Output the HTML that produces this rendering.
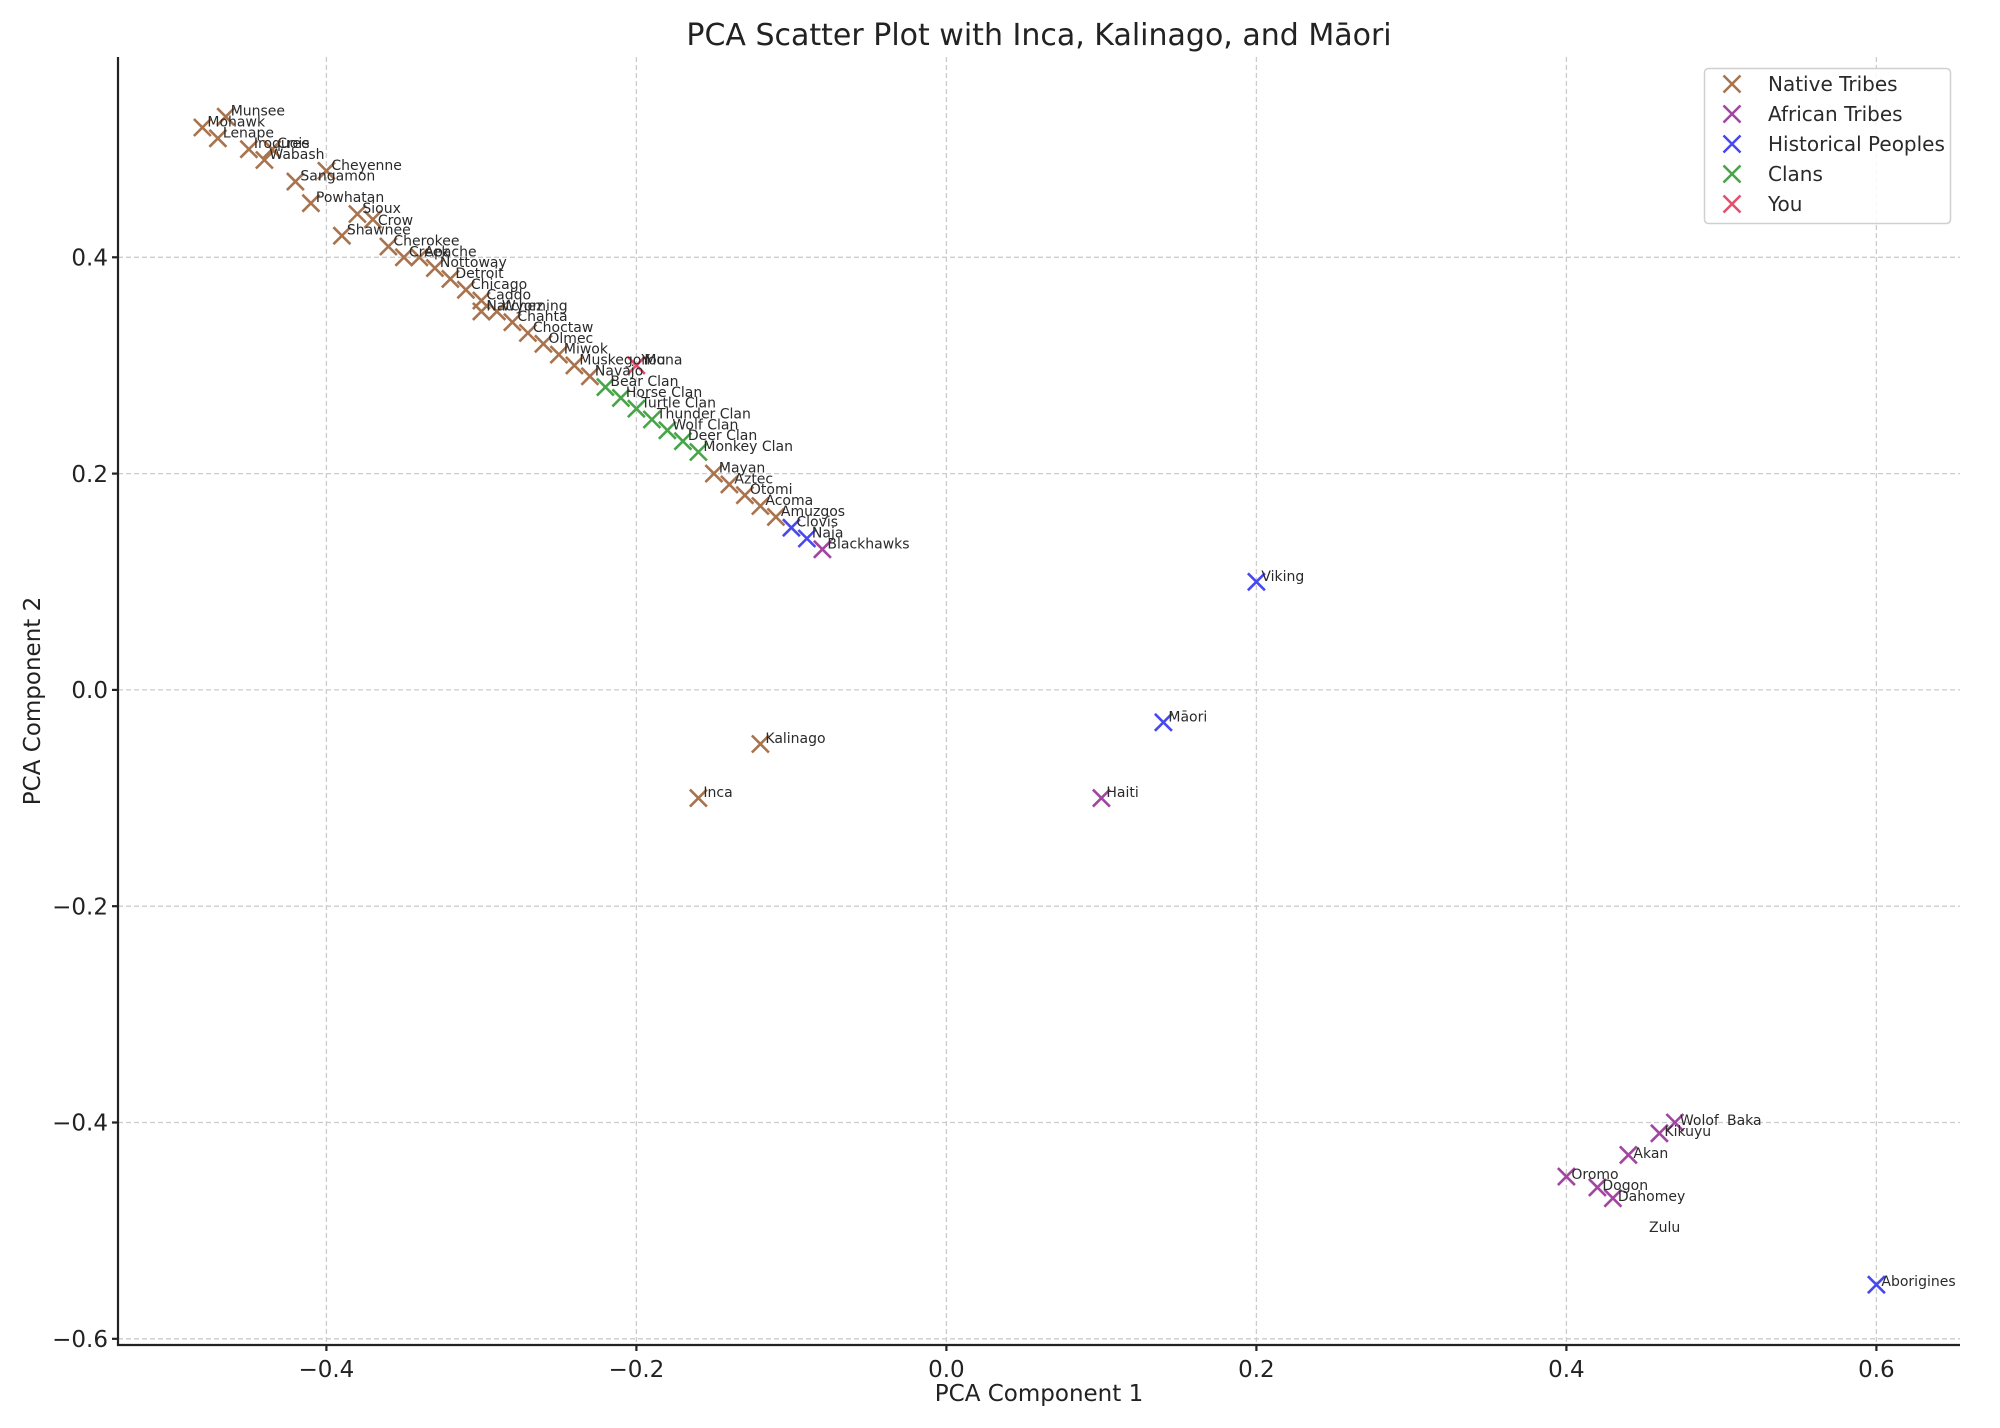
<!DOCTYPE html>
<html><head><meta charset="utf-8"><style>html,body{margin:0;padding:0;background:#fff}svg{display:block}</style></head>
<body>
<svg width="2000" height="1428" viewBox="0 0 2000 1428" xmlns="http://www.w3.org/2000/svg" font-family="DejaVu Sans, Liberation Sans, sans-serif">
<defs><path id="m" d="M-8.5-8.5L8.5 8.5M-8.5 8.5L8.5-8.5" stroke-width="2.6" fill="none"/></defs>
<rect width="2000" height="1428" fill="#fff"/>
<g stroke="#cccccc" stroke-width="1.3" stroke-dasharray="5,3">
<line x1="326.4" y1="57" x2="326.4" y2="1345"/><line x1="636.4" y1="57" x2="636.4" y2="1345"/><line x1="946.4" y1="57" x2="946.4" y2="1345"/><line x1="1256.4" y1="57" x2="1256.4" y2="1345"/><line x1="1566.4" y1="57" x2="1566.4" y2="1345"/><line x1="1876.4" y1="57" x2="1876.4" y2="1345"/>
<line x1="118" y1="257.3" x2="1960" y2="257.3"/><line x1="118" y1="473.6" x2="1960" y2="473.6"/><line x1="118" y1="689.9" x2="1960" y2="689.9"/><line x1="118" y1="906.2" x2="1960" y2="906.2"/><line x1="118" y1="1122.5" x2="1960" y2="1122.5"/><line x1="118" y1="1338.8" x2="1960" y2="1338.8"/>
</g>
<g stroke="#222" stroke-width="2.2">
<line x1="118" y1="57" x2="118" y2="1346"/><line x1="117" y1="1345" x2="1960" y2="1345"/>
<line x1="112" y1="257.3" x2="118" y2="257.3"/><line x1="112" y1="473.6" x2="118" y2="473.6"/><line x1="112" y1="689.9" x2="118" y2="689.9"/><line x1="112" y1="906.2" x2="118" y2="906.2"/><line x1="112" y1="1122.5" x2="118" y2="1122.5"/><line x1="112" y1="1338.8" x2="118" y2="1338.8"/>
<line x1="326.4" y1="1345" x2="326.4" y2="1351"/><line x1="636.4" y1="1345" x2="636.4" y2="1351"/><line x1="946.4" y1="1345" x2="946.4" y2="1351"/><line x1="1256.4" y1="1345" x2="1256.4" y2="1351"/><line x1="1566.4" y1="1345" x2="1566.4" y2="1351"/><line x1="1876.4" y1="1345" x2="1876.4" y2="1351"/>
</g>
<g font-size="23" fill="#222" text-anchor="end">
<text x="108" y="265.5">0.4</text><text x="108" y="481.8">0.2</text><text x="108" y="698.1">0.0</text><text x="108" y="914.4">−0.2</text><text x="108" y="1130.7">−0.4</text><text x="108" y="1347">−0.6</text>
</g>
<g font-size="23" fill="#222" text-anchor="middle">
<text x="326.4" y="1377">−0.4</text><text x="636.4" y="1377">−0.2</text><text x="946.4" y="1377">0.0</text><text x="1256.4" y="1377">0.2</text><text x="1566.4" y="1377">0.4</text><text x="1876.4" y="1377">0.6</text>
<text x="1039" y="1401">PCA Component 1</text>
<text transform="translate(40,701) rotate(-90)">PCA Component 2</text>
<text x="1039" y="45" font-size="30">PCA Scatter Plot with Inca, Kalinago, and Māori</text>
</g>
<g stroke="#a9734d">
<use href="#m" x="202.4" y="127.5"/><use href="#m" x="225.7" y="116.7"/><use href="#m" x="217.9" y="138.3"/><use href="#m" x="248.9" y="149.2"/><use href="#m" x="272.2" y="149.2"/><use href="#m" x="264.4" y="160"/><use href="#m" x="326.4" y="170.8"/><use href="#m" x="295.4" y="181.6"/><use href="#m" x="310.9" y="203.2"/><use href="#m" x="357.4" y="214"/><use href="#m" x="372.9" y="219.4"/><use href="#m" x="341.9" y="235.7"/><use href="#m" x="388.4" y="246.5"/><use href="#m" x="403.9" y="257.3"/><use href="#m" x="419.4" y="257.3"/><use href="#m" x="434.9" y="268.1"/><use href="#m" x="450.4" y="278.9"/><use href="#m" x="465.9" y="289.8"/><use href="#m" x="481.4" y="300.6"/><use href="#m" x="481.4" y="311.4"/><use href="#m" x="496.9" y="311.4"/><use href="#m" x="512.4" y="322.2"/><use href="#m" x="527.9" y="333"/><use href="#m" x="543.4" y="343.8"/><use href="#m" x="558.9" y="354.6"/><use href="#m" x="574.4" y="365.4"/><use href="#m" x="589.9" y="376.3"/>
<use href="#m" x="713.9" y="473.6"/><use href="#m" x="729.4" y="484.4"/><use href="#m" x="744.9" y="495.2"/><use href="#m" x="760.4" y="506"/><use href="#m" x="775.9" y="516.9"/><use href="#m" x="760.4" y="744"/><use href="#m" x="698.4" y="798.1"/>
</g>
<g stroke="#47a547">
<use href="#m" x="605.4" y="387.1"/><use href="#m" x="620.9" y="397.9"/><use href="#m" x="636.4" y="408.7"/><use href="#m" x="651.9" y="419.5"/><use href="#m" x="667.4" y="430.3"/><use href="#m" x="682.9" y="441.2"/><use href="#m" x="698.4" y="452"/>
</g>
<g stroke="#e4506c"><use href="#m" x="636.4" y="365.4"/></g>
<g stroke="#4848f2">
<use href="#m" x="791.4" y="527.7"/><use href="#m" x="806.9" y="538.5"/><use href="#m" x="1256.4" y="581.8"/><use href="#m" x="1163.4" y="722.3"/><use href="#m" x="1876.4" y="1284.7"/>
</g>
<g stroke="#a245a2">
<use href="#m" x="822.4" y="549.3"/><use href="#m" x="1101.4" y="798.1"/><use href="#m" x="1674.9" y="1122.5"/><use href="#m" x="1659.4" y="1133.3"/><use href="#m" x="1628.4" y="1154.9"/><use href="#m" x="1566.4" y="1176.6"/><use href="#m" x="1597.4" y="1187.4"/><use href="#m" x="1612.9" y="1198.2"/>
</g>
<g font-size="14" fill="#2a2a2a">
<text x="207.4" y="126.5">Mohawk</text><text x="230.7" y="115.7">Munsee</text><text x="222.9" y="137.3">Lenape</text><text x="253.9" y="148.2">Iroquois</text><text x="277.2" y="148.2">Cree</text><text x="269.4" y="159">Wabash</text><text x="331.4" y="169.8">Cheyenne</text><text x="300.4" y="180.6">Sangamon</text><text x="315.9" y="202.2">Powhatan</text><text x="362.4" y="213">Sioux</text><text x="377.9" y="225">Crow</text><text x="346.9" y="234.7">Shawnee</text><text x="393.4" y="245.5">Cherokee</text><text x="408.9" y="256.3">Creek</text><text x="424.4" y="256.3">Apache</text><text x="439.9" y="267.1">Nottoway</text><text x="455.4" y="277.9">Detroit</text><text x="470.9" y="288.8">Chicago</text><text x="486.4" y="299.6">Caddo</text><text x="486.4" y="310.4">Natchez</text><text x="501.9" y="310.4">Wyoming</text><text x="517.4" y="321.2">Chahta</text><text x="532.9" y="332">Choctaw</text><text x="548.4" y="342.8">Olmec</text><text x="563.9" y="353.6">Miwok</text><text x="579.4" y="364.4">Muskegon</text><text x="594.9" y="375.3">Navajo</text>
<text x="641.4" y="364.4">You</text><text x="644.4" y="364.4">Mona</text>
<text x="610.4" y="386.1">Bear Clan</text><text x="625.9" y="396.9">Horse Clan</text><text x="641.4" y="407.7">Turtle Clan</text><text x="656.9" y="418.5">Thunder Clan</text><text x="672.4" y="429.3">Wolf Clan</text><text x="687.9" y="440.2">Deer Clan</text><text x="703.4" y="451">Monkey Clan</text>
<text x="718.9" y="472.6">Mayan</text><text x="734.4" y="483.4">Aztec</text><text x="749.9" y="494.2">Otomi</text><text x="765.4" y="505">Acoma</text><text x="780.9" y="515.9">Amuzgos</text><text x="796.4" y="526.7">Clovis</text><text x="811.9" y="537.5">Naja</text><text x="827.4" y="548.3">Blackhawks</text>
<text x="1261.4" y="580.8">Viking</text><text x="1168.4" y="721.3">Māori</text><text x="765.4" y="743">Kalinago</text><text x="703.4" y="797.1">Inca</text><text x="1106.4" y="797.1">Haiti</text>
<text x="1679.9" y="1125">Wolof</text><text x="1727" y="1125">Baka</text><text x="1664.4" y="1136">Kikuyu</text><text x="1633.4" y="1158">Akan</text><text x="1571.4" y="1179">Oromo</text><text x="1602.4" y="1190">Dogon</text><text x="1617.9" y="1201">Dahomey</text><text x="1649" y="1232">Zulu</text><text x="1881.4" y="1286">Aborigines</text>
</g>
<rect x="1704.5" y="68.5" width="246" height="155" rx="4" fill="#fff" fill-opacity="0.85" stroke="#d0d0d0" stroke-width="1.5"/>
<g stroke-width="2.6">
<use href="#m" x="1732" y="84" stroke="#a9734d"/><use href="#m" x="1732" y="114" stroke="#a245a2"/><use href="#m" x="1732" y="144" stroke="#4848f2"/><use href="#m" x="1732" y="174" stroke="#47a547"/><use href="#m" x="1732" y="204" stroke="#e4506c"/>
</g>
<g font-size="20" fill="#2a2a2a">
<text x="1768" y="91">Native Tribes</text><text x="1768" y="121">African Tribes</text><text x="1768" y="151">Historical Peoples</text><text x="1768" y="181">Clans</text><text x="1768" y="211">You</text>
</g>
</svg>
</body></html>
